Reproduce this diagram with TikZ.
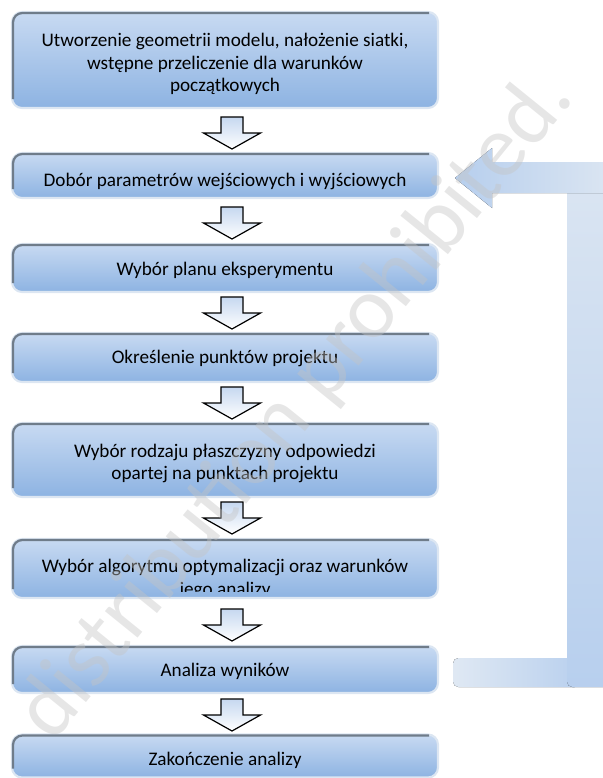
\documentclass[tikz,border=0pt]{standalone}
\usepackage{fontspec}
\setmainfont{Carlito}
\usetikzlibrary{calc}
\definecolor{boxtop}{HTML}{C8DAF2}
\definecolor{boxbot}{HTML}{8DB3E2}
\definecolor{glow}{HTML}{DCE6F2}
\definecolor{edgegray}{HTML}{6F7C8A}
\definecolor{arrtop}{HTML}{C6D8F0}
\definecolor{wmgray}{HTML}{C4C4C4}
\tikzset{
  box/.style={rectangle, rounded corners=7.5pt, minimum width=319.5pt, inner sep=0pt, outer sep=0pt,
    draw=glow, line width=1.6pt, top color=boxtop, bottom color=boxbot},
  edge/.style={draw=edgegray, line width=1.7pt, rounded corners=7pt},
  lbl/.style={font=\fontsize{14.4}{16.9}\selectfont, align=center, inner sep=0pt, text=black},
  downarr/.pic={
    \draw[line width=0.9pt, top color=arrtop, bottom color=white, line join=miter]
      (-11,0) -- (11,0) -- (11,16) -- (28.5,16) -- (0,32) -- (-28.5,16) -- (-11,16) -- cycle;
  },
  wm/.style={font=\fontsize{66}{66}\selectfont, text=wmgray, opacity=0.42, inner sep=0pt}
}
\newcommand{\boxedge}[1]{\draw[edge] ($(#1.south west)+(1,-9)$) -- ($(#1.north west)+(1,1)$) -- ($(#1.north east)+(-9,1)$);}
\begin{document}
\begin{tikzpicture}[x=0.75pt,y=-0.75pt]
\useasboundingbox (0,0) rectangle (603,778);
% loop-back arrow
\fill[left color=glow!90!white, right color=boxtop!75!boxbot, rounded corners=4pt] (453,658) rectangle (580,687);
\fill[top color=glow!90!boxtop, bottom color=boxtop!72!boxbot, rounded corners=4pt] (567,180) rectangle (615,687);
\fill[left color=boxtop!70!boxbot, right color=glow] (455,178) -- (492,148) -- (492,162) -- (615,162) -- (615,193) -- (492,193) -- (492,208) -- cycle;
% boxes
\node[box, minimum height=72pt] (b1) at (225,60) {};
\node[box, minimum height=33.75pt] (b2) at (225,175.5) {};
\node[box, minimum height=36pt] (b3) at (225,268) {};
\node[box, minimum height=36.75pt] (b4) at (225,357.5) {};
\node[box, minimum height=55.5pt] (b5) at (225,460) {};
\node[box, minimum height=44.25pt] (b6) at (225,568.5) {};
\node[box, minimum height=35.25pt] (b7) at (225,669.5) {};
\node[box, minimum height=32.25pt] (b8) at (225,756) {};
\foreach \b in {b1,b2,b3,b4,b5,b6,b7,b8} {\boxedge{\b}}
% labels
\node[lbl] (t1) at (225,64) {Utworzenie geometrii modelu, nałożenie siatki,\\wstępne przeliczenie dla warunków\\początkowych};
\node[lbl] (t2) at (225,181) {Dobór parametrów wejściowych i wyjściowych};
\node[lbl] (t3) at (225,270) {Wybór planu eksperymentu};
\node[lbl] (t4) at (225,358) {Określenie punktów projektu};
\node[lbl] (t5) at (225,463.5) {Wybór rodzaju płaszczyzny odpowiedzi\\opartej na punktach projektu};
\begin{scope}
\clip (12,539) rectangle (438,591);
\node[lbl] (t6) at (225,579) {Wybór algorytmu optymalizacji oraz warunków\\jego analizy};
\end{scope}
\node[lbl] (t7) at (225,671) {Analiza wyników};
\node[lbl] (t8) at (225,760) {Zakończenie analizy};
% block arrows
\pic at (232,117) {downarr};
\pic at (232,207) {downarr};
\pic at (232,297) {downarr};
\pic at (232,387) {downarr};
\pic at (232,502) {downarr};
\pic at (232,609) {downarr};
\pic at (232,699) {downarr};
% watermark
\node[wm, rotate=51] (wmk) at (296,406) {distribution prohibited.};
\end{tikzpicture}
\end{document}
